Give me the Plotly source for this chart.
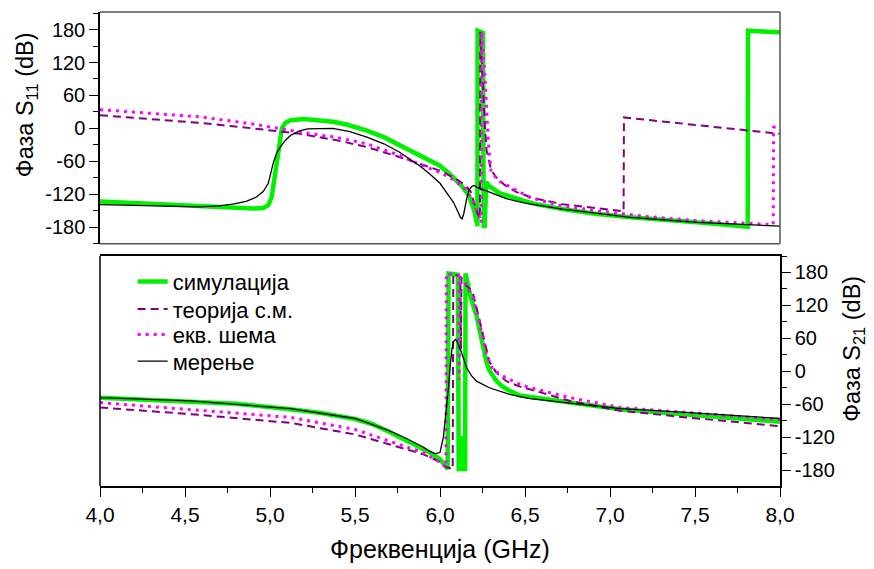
import plotly.graph_objects as go

# ---------------- data: phase of S11 (top panel) ----------------
f_sim_s11 = [4.00, 4.20, 4.40, 4.60, 4.80, 4.90, 4.96, 4.99, 5.01, 5.03, 5.05, 5.07, 5.09, 5.12,
             5.20, 5.30, 5.37, 5.45, 5.57, 5.67, 5.76, 5.85, 5.94, 6.00, 6.06, 6.12, 6.17, 6.20,
             6.215, 6.22, 6.221, 6.25, 6.253, 6.257, 6.263, 6.272, 6.29, 6.35, 6.43, 6.55, 6.72,
             6.90, 7.12, 7.30, 7.51, 7.70, 7.81, 7.812, 8.00]
sim_s11 = [-133, -136, -139, -142, -145, -146, -145, -140, -125, -85, -35, 0, 10, 15,
           17, 14, 12, 7, -4, -16, -30, -44, -58, -68, -84, -102, -122, -148,
           -170, -178, 178, 174, 174, -178, -178, -98, -105, -118, -126, -137, -147,
           -155, -162, -167, -171, -176, -179, 178, 175]

f_meas_s11 = [4.00, 4.30, 4.59, 4.70, 4.78, 4.86, 4.92, 4.96, 4.99, 5.02, 5.04, 5.06, 5.09, 5.12,
              5.17, 5.22, 5.30, 5.37, 5.47, 5.57, 5.67, 5.76, 5.88, 5.94, 6.00, 6.05, 6.08, 6.10,
              6.12, 6.13, 6.14, 6.157, 6.17, 6.186, 6.20, 6.215, 6.255, 6.29, 6.39, 6.50, 6.72,
              7.12, 7.51, 8.00]
meas_s11 = [-139, -141, -143, -141, -138, -133, -125, -115, -100, -62, -44, -34, -22, -13,
            -5, -1, 0, 0, -6, -16, -28, -43, -68, -83, -100, -122, -135, -148,
            -162, -165, -155, -128, -113, -106, -104, -107, -112, -116, -128, -136, -147,
            -162, -171, -178]

f_theo_s11 = [4.00, 4.30, 4.59, 4.90, 5.18, 5.40, 5.57, 5.76, 5.90, 6.00, 6.07, 6.14, 6.18, 6.215,
              6.235, 6.237, 6.245, 6.255, 6.265, 6.274, 6.30, 6.33, 6.38, 6.45, 6.55, 6.72, 6.90,
              7.08, 7.082, 7.50, 8.00]
theo_s11 = [24, 17, 10, 0, -10, -22, -34, -52, -66, -77, -88, -101, -115, -150,
            -165, 176, 125, 51, 0, -40, -75, -89, -103, -116, -127, -138, -145,
            -151, 20, 6, -10]

f_equiv_s11 = [4.00, 4.30, 4.59, 4.90, 5.18, 5.40, 5.57, 5.76, 5.90, 6.00, 6.07, 6.14, 6.19, 6.23,
               6.243, 6.245, 6.255, 6.265, 6.275, 6.285, 6.30, 6.34, 6.41, 6.53, 6.70, 6.92, 7.20,
               7.51, 7.75, 7.96, 7.962, 8.00]
equiv_s11 = [34, 28, 21, 8, -7, -17, -28, -49, -68, -80, -92, -108, -130, -160,
             -172, 176, 136, 94, 30, -28, -77, -95, -106, -126, -140, -150, -160,
             -168, -172, -175, 2, 5]

# ---------------- data: phase of S21 (bottom panel) ----------------
f_sim_s21 = [4.00, 4.25, 4.53, 4.80, 5.12, 5.30, 5.50, 5.60, 5.70, 5.80, 5.90, 5.94, 6.00, 6.045,
             6.05, 6.105, 6.11, 6.12, 6.125, 6.13, 6.135, 6.148, 6.15, 6.16, 6.176, 6.20, 6.216,
             6.235, 6.255, 6.275, 6.29, 6.31, 6.33, 6.36, 6.40, 6.47, 6.53, 6.765, 7.06, 7.45, 8.00]
sim_s21 = [-48, -51, -54, -59, -69, -76, -87, -96, -110, -125, -142, -148, -160, -178,
           178, 176, -178, -178, -118, -178, -178, -178, 178, 165, 140, 115, 100,
           72, 42, 15, 2, -8, -17, -26, -34, -44, -47, -57, -69, -78, -92]

f_meas_s21 = [4.00, 4.53, 5.12, 5.50, 5.70, 5.80, 5.90, 5.94, 5.97, 6.00, 6.02, 6.035, 6.05, 6.06,
              6.07, 6.08, 6.09, 6.10, 6.118, 6.14, 6.157, 6.185, 6.215, 6.29, 6.41, 6.47, 6.53,
              6.765, 7.06, 7.45, 8.00]
meas_s21 = [-48, -54, -68, -86, -108, -122, -138, -146, -150, -148, -120, -80, -30, 10,
            40, 54, 58, 55, 42, 22, 6, -8, -18, -30, -42, -46, -50,
            -58, -68, -75, -86]

f_theo_s21 = [4.00, 4.53, 5.12, 5.50, 5.70, 5.90, 6.00, 6.04, 6.075, 6.078, 6.12, 6.123, 6.126, 6.14,
              6.17, 6.196, 6.22, 6.245, 6.27, 6.29, 6.33, 6.39, 6.47, 6.53, 6.765, 7.06, 7.45, 8.00]
theo_s21 = [-66, -78, -94, -115, -133, -151, -165, -175, -178, 178, 172, 40, 170, 160,
            152, 139, 110, 79, 45, 18, -2, -18, -28, -33, -54, -72, -84, -100]

f_equiv_s21 = [4.00, 4.53, 5.12, 5.50, 5.70, 5.90, 6.00, 6.035, 6.038, 6.07, 6.11, 6.113, 6.118, 6.15,
               6.196, 6.235, 6.274, 6.31, 6.39, 6.47, 6.53, 6.765, 7.06, 7.45, 8.00]
equiv_s21 = [-57, -70, -84, -106, -127, -148, -166, -175, 178, 176, 174, -15, 172, 160,
             133, 85, 30, 3, -12, -24, -30, -48, -66, -75, -88]

# ---------------- labels / ticks ----------------
series_names = ["симулација", "теорија с.м.", "екв. шема", "мерење"]
x_tick_vals = [4.0, 4.5, 5.0, 5.5, 6.0, 6.5, 7.0, 7.5, 8.0]
x_tick_text = ["4,0", "4,5", "5,0", "5,5", "6,0", "6,5", "7,0", "7,5", "8,0"]
y_tick_vals = [-180, -120, -60, 0, 60, 120, 180]
y_tick_text = ["-180", "-120", "-60", "0", "60", "120", "180"]
x_title = "Фреквенција (GHz)"
y1_title = "Фаза S<sub>11</sub> (dB)"
y2_title = "Фаза S<sub>21</sub> (dB)"

FONT = "Arial, 'Liberation Sans', sans-serif"
GREEN = "#00f000"
PURPLE = "#800080"
MAGENTA = "#ff00ff"

styles = [
    dict(color=GREEN, width=4.5),
    dict(color=PURPLE, width=2, dash="8px,5px"),
    dict(color=MAGENTA, width=3, dash="3px,5px"),
    dict(color="black", width=1.3),
]

fig = go.Figure()

top = [(f_sim_s11, sim_s11), (f_theo_s11, theo_s11), (f_equiv_s11, equiv_s11), (f_meas_s11, meas_s11)]
bot = [(f_sim_s21, sim_s21), (f_theo_s21, theo_s21), (f_equiv_s21, equiv_s21), (f_meas_s21, meas_s21)]
legend_ids = ["legend", "legend2", "legend3", "legend4"]

for i, (fx, fy) in enumerate(top):
    fig.add_trace(go.Scatter(x=fx, y=fy, mode="lines", line=styles[i], name=series_names[i],
                             showlegend=False, xaxis="x", yaxis="y"))
for i, (fx, fy) in enumerate(bot):
    fig.add_trace(go.Scatter(x=fx, y=fy, mode="lines", line=styles[i], name=series_names[i],
                             showlegend=True, legend=legend_ids[i], xaxis="x2", yaxis="y2"))

ytickfont = dict(family=FONT, size=20, color="black")
xtickfont = dict(family=FONT, size=21, color="black")
minor_y = dict(dtick=30, tick0=0, ticks="outside", ticklen=5, tickwidth=1.3, tickcolor="black", showgrid=False)

legend_rows = [0.431, 0.373, 0.319, 0.263]
legend_common = dict(x=0.048, xanchor="left", yanchor="middle", bgcolor="rgba(0,0,0,0)",
                     font=dict(family=FONT, size=22, color="black"))

fig.update_layout(
    width=874, height=569,
    margin=dict(l=92, r=102, t=4, b=91),
    plot_bgcolor="white", paper_bgcolor="white",
    font=dict(family=FONT, color="black"),
    xaxis=dict(domain=[0, 1], anchor="y", range=[4, 8], showticklabels=False, ticks="",
               showline=False, showgrid=False, zeroline=False),
    yaxis=dict(domain=[0.5112, 1], anchor="x", range=[-210, 212], side="left",
               tickvals=y_tick_vals, ticktext=y_tick_text, tickfont=ytickfont,
               ticks="outside", ticklen=9, tickwidth=1.3, tickcolor="black", minor=minor_y,
               showline=True, linecolor="black", linewidth=1.5, showgrid=False, zeroline=False),
    xaxis2=dict(domain=[0, 1], anchor="y2", range=[4, 8],
                tickvals=x_tick_vals, ticktext=x_tick_text, tickfont=xtickfont,
                ticks="outside", ticklen=9, tickwidth=1.3, tickcolor="black",
                minor=dict(dtick=0.25, tick0=4, ticks="outside", ticklen=5, tickwidth=1.3, tickcolor="black", showgrid=False),
                showline=True, mirror=True, linecolor="black", linewidth=1.5, showgrid=False, zeroline=False),
    yaxis2=dict(domain=[0, 0.4852], anchor="x2", range=[-209, 210], side="right",
                tickvals=y_tick_vals, ticktext=y_tick_text, tickfont=ytickfont,
                ticks="outside", ticklen=9, tickwidth=1.3, tickcolor="black", minor=minor_y,
                showline=True, linecolor="black", linewidth=1.5, showgrid=False, zeroline=False),
    legend=dict(y=legend_rows[0], **legend_common),
    legend2=dict(y=legend_rows[1], **legend_common),
    legend3=dict(y=legend_rows[2], **legend_common),
    legend4=dict(y=legend_rows[3], **legend_common),
    showlegend=True,
)

# frame lines of the panels
GREY = "#555555"
fig.add_shape(type="line", xref="x domain", yref="y domain", x0=0, x1=1, y0=1, y1=1, line=dict(color=GREY, width=1.5))
fig.add_shape(type="line", xref="x domain", yref="y domain", x0=1, x1=1, y0=0, y1=1, line=dict(color=GREY, width=1.5))
fig.add_shape(type="line", xref="x domain", yref="y domain", x0=0, x1=1, y0=0, y1=0, line=dict(color=GREY, width=1.5))
fig.add_shape(type="line", xref="x2 domain", yref="y2 domain", x0=0, x1=0, y0=0, y1=1, line=dict(color="black", width=1.5))

# axis titles
fig.add_annotation(text=y1_title, xref="paper", yref="paper", x=-0.107, y=0.804, xanchor="center", yanchor="middle",
                   textangle=-90, showarrow=False, font=dict(family=FONT, size=23.5, color="black"))
fig.add_annotation(text=y2_title, xref="paper", yref="paper", x=1.107, y=0.289, xanchor="center", yanchor="middle",
                   textangle=-90, showarrow=False, font=dict(family=FONT, size=23.5, color="black"))
fig.add_annotation(text=x_title, xref="paper", yref="paper", x=0.5, y=-0.133, xanchor="center", yanchor="middle",
                   showarrow=False, font=dict(family=FONT, size=25, color="black"))

fig.write_html("out.html")
